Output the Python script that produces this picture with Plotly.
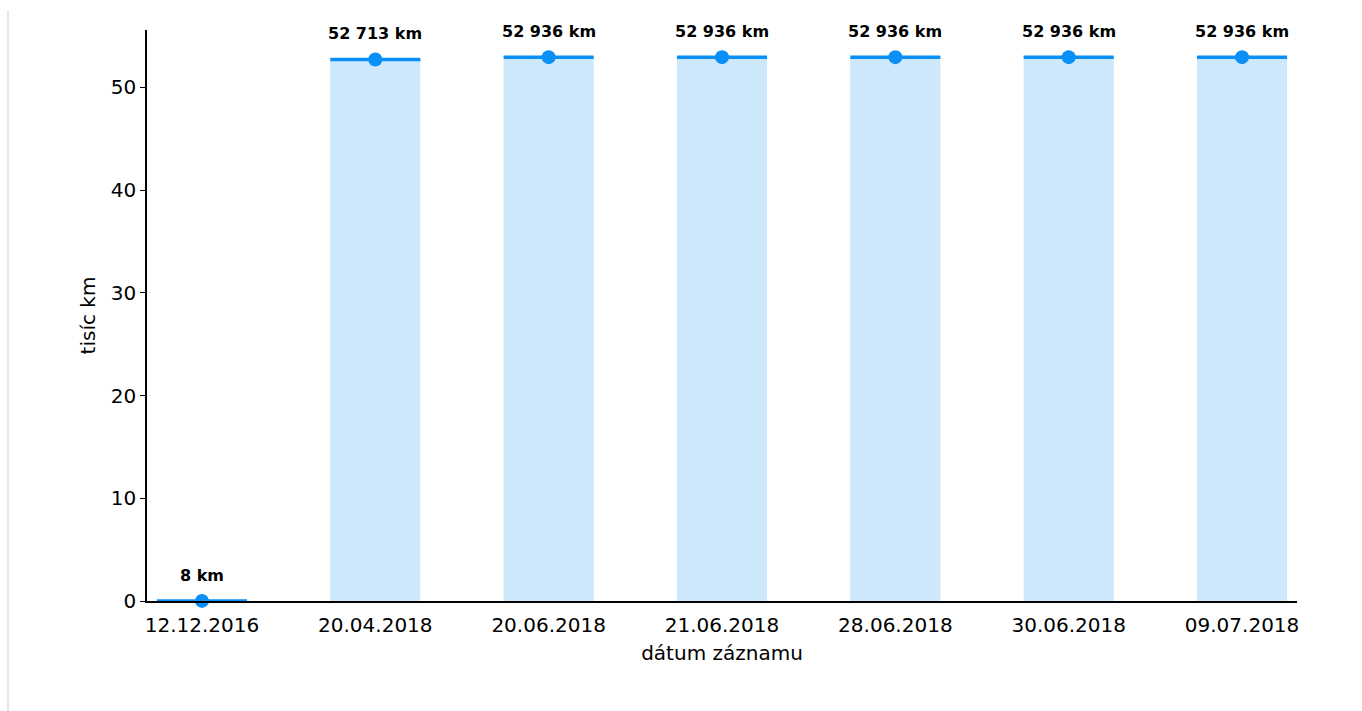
import plotly.graph_objects as go

# Odometer readings by record date
dates = ["12.12.2016", "20.04.2018", "20.06.2018", "21.06.2018",
         "28.06.2018", "30.06.2018", "09.07.2018"]
km_values = [8, 52713, 52936, 52936, 52936, 52936, 52936]

thousands = [v / 1000 for v in km_values]
labels = [f"{v:,}".replace(",", " ") + " km" for v in km_values]
xpos = list(range(len(dates)))

BAR_W = 0.52
LINE_C = "#0a8ff7"
BAR_C = "#cde8fb"
FONT = "DejaVu Sans"

fig = go.Figure()

fig.add_trace(go.Bar(
    x=xpos, y=thousands, width=BAR_W,
    marker=dict(color=BAR_C, line=dict(width=0)),
    hoverinfo="skip",
))

# horizontal cap on top of each bar
seg_x, seg_y = [], []
for x, y in zip(xpos, thousands):
    seg_x += [x - BAR_W / 2, x + BAR_W / 2, None]
    seg_y += [y, y, None]
fig.add_trace(go.Scatter(
    x=seg_x, y=seg_y, mode="lines", cliponaxis=False,
    line=dict(color=LINE_C, width=3.5), hoverinfo="skip",
))

fig.add_trace(go.Scatter(
    x=xpos, y=thousands, mode="markers", cliponaxis=False,
    marker=dict(color=LINE_C, size=14),
))

for x, y, t in zip(xpos, thousands, labels):
    fig.add_annotation(
        x=x, y=y, text=f"<b>{t}</b>", showarrow=False,
        yanchor="bottom", yshift=14,
        font=dict(family=FONT, size=16, color="black"),
    )

# thin page border on the left
fig.add_shape(
    type="line", xref="paper", yref="paper",
    x0=-139 / 1150, x1=-139 / 1150, y0=1.035, y1=-0.2,
    line=dict(color="#e6e6e6", width=2),
)

fig.update_layout(
    width=1362, height=711,
    margin=dict(l=147, r=65, t=30, b=110),
    paper_bgcolor="white", plot_bgcolor="white",
    showlegend=False,
    font=dict(family=FONT, size=20, color="black"),
    xaxis=dict(
        range=[-0.317, 6.317],
        tickvals=xpos, ticktext=dates,
        showgrid=False, zeroline=False,
        showline=True, linecolor="black", linewidth=1.5,
        ticks="", ticklen=0, ticklabelstandoff=5,
        title=dict(text="dátum záznamu", font=dict(size=20), standoff=10),
        tickfont=dict(size=20),
    ),
    yaxis=dict(
        range=[0, 55.58],
        tickvals=[0, 10, 20, 30, 40, 50],
        showgrid=False, zeroline=False,
        showline=True, linecolor="black", linewidth=1.5,
        ticks="outside", ticklen=5, tickwidth=1.2, tickcolor="black",
        title=dict(text="tisíc km", font=dict(size=20), standoff=10),
        tickfont=dict(size=20),
    ),
)

fig.write_html("out.html")
